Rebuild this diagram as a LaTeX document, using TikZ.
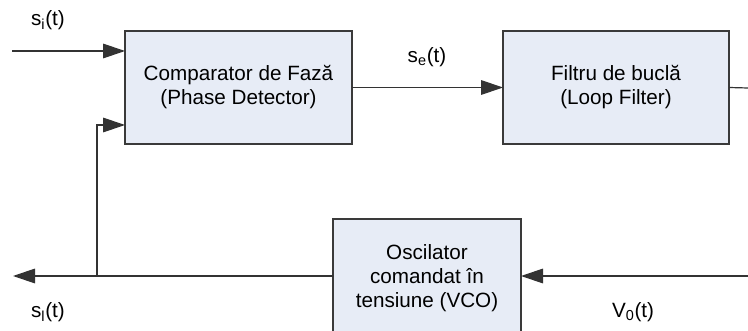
\documentclass[tikz,border=0pt]{standalone}
\usepackage{fontspec}
\setmainfont{Liberation Sans}
\usetikzlibrary{arrows.meta}
\definecolor{boxfill}{HTML}{E7ECF6}
\definecolor{boxline}{HTML}{3A3A3A}
\definecolor{wire}{HTML}{333333}
\tikzset{
  blk/.style={draw=boxline, fill=boxfill, line width=0.9pt, rectangle, inner sep=0pt, outer sep=0pt,
    align=center, font=\fontsize{15.5}{18}\selectfont},
  lbl/.style={font=\fontsize{15.5}{18}\selectfont, inner sep=0pt},
  wirestyle/.style={draw=wire, line width=0.9pt},
  arr/.style={wirestyle, -{Triangle[length=16.5pt,width=11pt]}}
}
\begin{document}
\begin{tikzpicture}[x=0.75pt,y=-0.75pt]
\useasboundingbox (0,0) rectangle (748,331);
\clip (0,0) rectangle (748,331);
% blocks
\node[blk, minimum width=170.25pt, minimum height=84.75pt] (pd) at (238.5,87.5)
  {Comparator de Fază\\(Phase Detector)};
\node[blk, minimum width=169.5pt, minimum height=84.75pt] (lf) at (616,87.5)
  {Filtru de buclă\\(Loop Filter)};
\node[blk, minimum width=141pt, minimum height=88.5pt] (vco) at (427,278)
  {Oscilator\\comandat în\\tensiune (VCO)};
% labels
\node[lbl] (lsi) at (48,20) {s\textsubscript{i}(t)};
\node[lbl] (lse) at (427,57) {s\textsubscript{e}(t)};
\node[lbl] (lsl) at (48,312) {s\textsubscript{l}(t)};
\node[lbl] (lvo) at (633,312) {V\textsubscript{0}(t)};
% connector ends
\coordinate (inS) at (12,51);
\coordinate (fbJ) at (97,276);
\coordinate (fbT) at (97,125);
\coordinate (outL) at (13,276);
\coordinate (vIn) at (748,276);
\coordinate (lfOut) at (748,88);
% connectors
\draw[arr] (inS) -- (inS -| pd.west);
\draw[arr] (fbJ) -- (fbT) -- (fbT -| pd.west);
\draw[arr] (pd.east) -- (lf.west);
\draw[wirestyle] (lf.east) -- (lfOut);
\draw[arr] (fbJ -| vco.west) -- (outL);
\draw[arr] (vIn) -- (vIn -| vco.east);
\end{tikzpicture}
\end{document}
